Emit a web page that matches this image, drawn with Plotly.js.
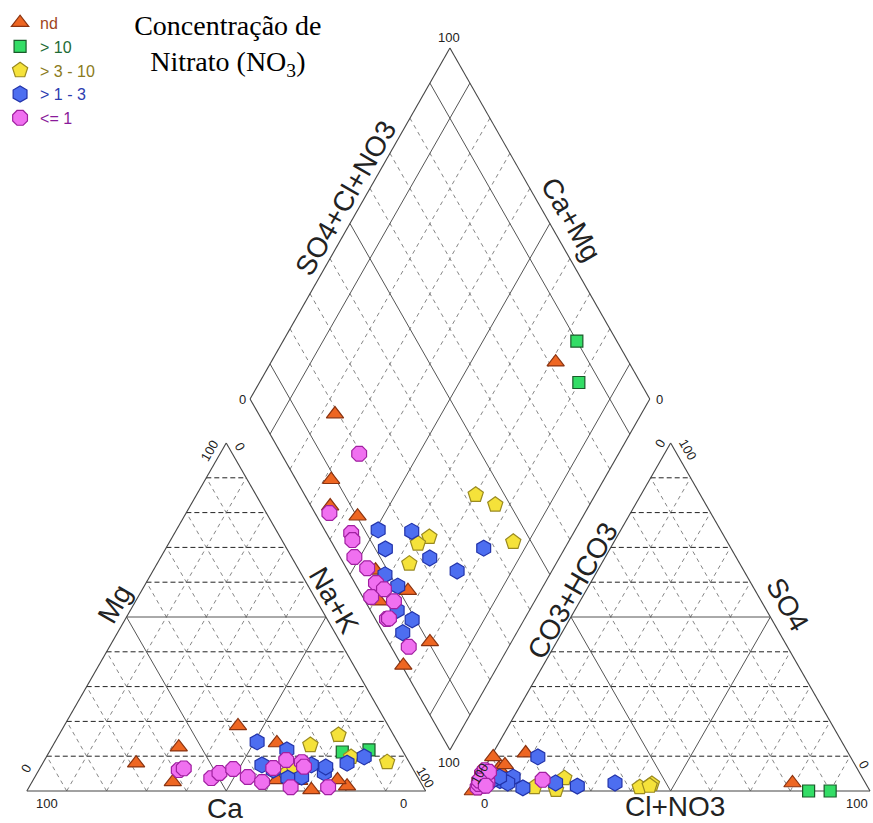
<!DOCTYPE html>
<html>
<head>
<meta charset="utf-8">
<script src="https://cdn.plot.ly/plotly-3.0.1.min.js"></script>
<style>html,body{margin:0;padding:0;background:#fff;}#chart{width:873px;height:823px;}</style>
</head>
<body>
<div id="chart"></div>
<script>
// ---------------- DATA (percent of meq) ----------------
const groups = ['nd', '> 10', '> 3 - 10', '> 1 - 3', '<= 1'];

// nd
const nd_Mg   = [0.3, 8.0, 12.6, 2.6, 18.7, 13.8, 3.0, 3.2, 1.4, 3.2];
const nd_NaK  = [71.2, 23.4, 31.8, 35.3, 43.6, 55.8, 66.8, 61.1, 79.6, 76.3];
const nd_SO4  = [2.3, 10.9, 5.0, 3.0, 6.5, 4.0, 7.5, 2.0, 9.8, 0.0];
const nd_Cl   = [79.4, 8.2, 3.8, 1.8, 3.7, 3.0, 4.7, 1.5, 0.6, 0.4];
// > 10
const g10_Mg  = [11.2, 11.8];
const g10_NaK = [73.5, 79.9];
const g10_SO4 = [0.0, 0.0];
const g10_Cl  = [90.0, 84.6];
// > 3 - 10
const g3_Mg   = [16.1, 9.8, 8.3, 13.2, 5.2, 7.0];
const g3_NaK  = [70.1, 76.4, 86.2, 64.5, 62.6, 63.3];
const g3_SO4  = [1.1, 2.0, 1.5, 3.7, 0.3, 1.1];
const g3_Cl   = [41.7, 44.3, 44.0, 21.5, 21.1, 15.3];
// > 1 - 3
const g1_Mg   = [14.1, 11.8, 7.5, 7.5, 8.0, 9.8, 6.0, 3.7, 4.0, 5.2, 6.9];
const g1_NaK  = [50.7, 59.3, 55.2, 67.6, 76.3, 79.7, 58.8, 63.6, 66.9, 72.0, 71.5];
const g1_SO4  = [0.9, 9.8, 4.0, 2.3, 1.4, 2.3, 3.0, 2.3, 3.0, 4.0, 2.0];
const g1_Cl   = [12.5, 11.8, 8.5, 20.0, 25.9, 34.9, 5.7, 8.0, 3.7, 5.1, 2.9];
// <= 1
const le1_Mg  = [6.0, 6.5, 3.7, 5.2, 6.3, 4.0, 2.6, 8.9, 6.6, 8.3, 1.1, 7.0, 1.1];
const le1_NaK = [35.1, 36.1, 44.4, 45.7, 48.6, 53.4, 57.7, 60.6, 58.5, 64.8, 65.6, 66.0, 75.0];
const le1_SO4 = [3.2, 2.5, 4.5, 3.5, 1.5, 5.0, 2.5, 6.0, 1.0, 5.5, 2.0, 3.0, 1.5];
const le1_Cl  = [16.3, 1.1, 1.7, 2.0, 2.1, 0.2, 2.8, 0.4, 1.1, 1.7, 0.9, 0.5, 2.9];

const tickLow = '0', tickHigh = '100';

// ---------------- GEOMETRY (pixel space) ----------------
const S = 402, H = 348;
const LT = [20, 791], RT = [468, 791];
const DB = [446.5, 750], DL = [245, 399], DR = [648, 399];

function catXY(mg, nak) { return [LT[0] + S * (nak + mg / 2), LT[1] - H * mg]; }
function anXY(so4, cl) { return [RT[0] + S * (cl + so4 / 2), RT[1] - H * so4]; }
function diaXY(u, v) {
  return [DB[0] + u * (DL[0] - DB[0]) + v * (DR[0] - DB[0]),
          DB[1] + u * (DL[1] - DB[1]) + v * (DR[1] - DB[1])];
}

function samplePoints(Mg, NaK, SO4, Cl) {
  const xs = [], ys = [];
  for (let i = 0; i < Mg.length; i++) {
    const mg = Mg[i] / 100, nak = NaK[i] / 100, so4 = SO4[i] / 100, cl = Cl[i] / 100;
    const c = catXY(mg, nak), a = anXY(so4, cl), d = diaXY(1 - nak, so4 + cl);
    xs.push(c[0], a[0], d[0]); ys.push(c[1], a[1], d[1]);
  }
  return {x: xs, y: ys};
}

// ---------------- GRID ----------------
const segs = {outline: [[], []], solid: [[], []], hdash: [[], []], ddash: [[], []]};
function addSeg(kind, p, q) {
  segs[kind][0].push(p[0], q[0], null);
  segs[kind][1].push(p[1], q[1], null);
}
function triGrid(fn) {
  addSeg('outline', fn(0, 0), fn(0, 1));
  addSeg('outline', fn(0, 1), fn(1, 0));
  addSeg('outline', fn(1, 0), fn(0, 0));
  for (let k = 1; k <= 9; k++) {
    const f = k / 10, mid = (k === 5);
    addSeg(mid ? 'solid' : 'hdash', fn(f, 0), fn(f, 1 - f));
    addSeg(mid ? 'solid' : 'ddash', fn(0, f), fn(1 - f, f));
    addSeg(mid ? 'solid' : 'ddash', fn(0, 1 - f), fn(1 - f, 0));
  }
}
triGrid(catXY);
triGrid(anXY);
addSeg('outline', diaXY(0, 0), diaXY(1, 0));
addSeg('outline', diaXY(1, 0), diaXY(1, 1));
addSeg('outline', diaXY(1, 1), diaXY(0, 1));
addSeg('outline', diaXY(0, 1), diaXY(0, 0));
for (let k = 1; k <= 9; k++) {
  const f = k / 10, sol = (k === 1 || k === 5 || k === 9);
  addSeg(sol ? 'solid' : 'ddash', diaXY(f, 0), diaXY(f, 1));
  addSeg(sol ? 'solid' : 'ddash', diaXY(0, f), diaXY(1, f));
}

const traces = [];
const lineStyle = {
  outline: {color: '#444', width: 1.1},
  solid:   {color: '#555', width: 1},
  hdash:   {color: '#222', width: 1, dash: '5px,3px'},
  ddash:   {color: '#777', width: 0.9, dash: '4px,4px'}
};
['ddash', 'hdash', 'solid', 'outline'].forEach(k => {
  traces.push({x: segs[k][0], y: segs[k][1], mode: 'lines', line: lineStyle[k],
               hoverinfo: 'skip', showlegend: false, type: 'scatter'});
});

// ---------------- SAMPLES ----------------
const styles = [
  {sym: 'triangle-up', fill: '#ee6622', edge: '#8a3310', size: 15, txt: '#a0461e'},
  {sym: 'square',      fill: '#33dd66', edge: '#1a5a2a', size: 12, txt: '#1e6b35'},
  {sym: 'pentagon',    fill: '#f5e23a', edge: '#9a8a20', size: 16, txt: '#8a7a20'},
  {sym: 'hexagon',     fill: '#4d6ef0', edge: '#2233aa', size: 16, txt: '#2c3cb0'},
  {sym: 'octagon',     fill: '#f070f0', edge: '#a020a0', size: 16, txt: '#8a1a9a'}
];
const groupData = [
  samplePoints(nd_Mg, nd_NaK, nd_SO4, nd_Cl),
  samplePoints(g10_Mg, g10_NaK, g10_SO4, g10_Cl),
  samplePoints(g3_Mg, g3_NaK, g3_SO4, g3_Cl),
  samplePoints(g1_Mg, g1_NaK, g1_SO4, g1_Cl),
  samplePoints(le1_Mg, le1_NaK, le1_SO4, le1_Cl)
];
groups.forEach((g, i) => {
  const st = styles[i];
  traces.push({
    type: 'scatter', mode: 'markers', x: groupData[i].x, y: groupData[i].y,
    name: '<span style="color:' + st.txt + '">' + g + '</span>',
    marker: {symbol: st.sym, size: st.size, color: st.fill, line: {color: st.edge, width: 1.2}},
    cliponaxis: false
  });
});

// ---------------- LABELS ----------------
const ann = [];
function lab(x, y, text, angle, size) {
  ann.push({x: x, y: y, xref: 'x', yref: 'y', text: text, showarrow: false,
            textangle: angle, xanchor: 'center', yanchor: 'middle',
            font: {family: 'Liberation Sans, Arial, sans-serif', size: size, color: '#222'}});
}
// axis titles
lab(220, 808, 'Ca', 0, 28);
lab(108, 604, 'Mg', -60, 28);
lab(330, 600, 'Na+K', 60, 28);
lab(673, 806, 'Cl+NO3', 0, 28);
lab(570, 590, 'CO3+HCO3', -60, 28);
lab(787, 604, 'SO4', 60, 28);
lab(341, 198, 'SO4+Cl+NO3', -60, 28);
lab(569, 219, 'Ca+Mg', 60, 28);
// tick labels
const tk = 13;
lab(40, 803, tickHigh, 0, tk);  lab(400, 803, tickLow, 0, tk);
lab(19, 768, tickLow, -60, tk); lab(204, 450, tickHigh, -60, tk);
lab(235, 446, tickLow, 60, tk); lab(422, 777, tickHigh, 60, tk);
lab(481, 803, tickLow, 0, tk);  lab(857, 803, tickHigh, 0, tk);
lab(476, 773, tickHigh, -60, tk); lab(658, 443, tickLow, -60, tk);
lab(687, 450, tickHigh, 60, tk); lab(864, 764, tickLow, 60, tk);
lab(446, 37, tickHigh, 0, tk);  lab(446, 762, tickHigh, 0, tk);
lab(237, 399, tickLow, 0, tk);  lab(658, 399, tickLow, 0, tk);

const layout = {
  width: 873, height: 823,
  margin: {l: 0, r: 0, t: 0, b: 0},
  paper_bgcolor: '#fff', plot_bgcolor: '#fff',
  xaxis: {range: [0, 873], visible: false, fixedrange: true},
  yaxis: {range: [823, 0], visible: false, fixedrange: true},
  title: {text: 'Concentração de<br>Nitrato (NO<sub>3</sub>)',
          x: 0.261, xanchor: 'center', y: 0.958, yanchor: 'top',
          font: {family: 'Liberation Serif, Times New Roman, serif', size: 28, color: '#000'}},
  showlegend: true,
  legend: {x: -0.008, y: 0.993, xanchor: 'left', yanchor: 'top', bgcolor: 'rgba(0,0,0,0)',
           font: {family: 'Liberation Sans, Arial, sans-serif', size: 16},
           tracegroupgap: 0, itemwidth: 30},
  annotations: ann
};
Plotly.newPlot('chart', traces, layout, {staticPlot: true, displayModeBar: false});
</script>
</body>
</html>
